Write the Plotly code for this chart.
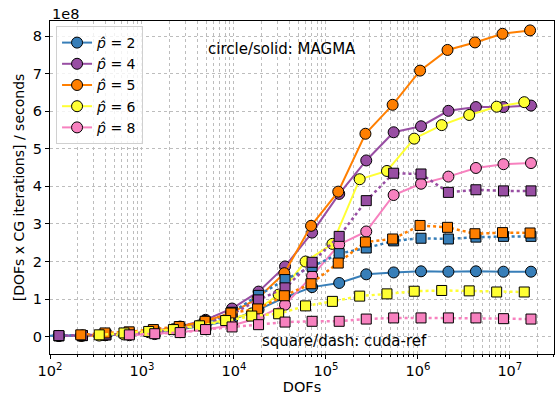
import plotly.graph_objects as go

# DOFs per polynomial degree
X_P2 = [27, 45, 75, 125, 225, 405, 729, 1377, 2601, 4913, 9537, 18513, 35937, 70785, 139425,
        274625, 545025, 1081665, 2146689, 4276737, 8520321, 16974593]
X_P4 = [125, 225, 405, 729, 1377, 2601, 4913, 9537, 18513, 35937, 70785, 139425, 274625,
        545025, 1081665, 2146689, 4276737, 8520321, 16974593]
X_P5 = [216, 396, 726, 1331, 2541, 4851, 9261, 18081, 35301, 68921, 136161, 269001, 531441,
        1056321, 2099601, 4173281, 8320641, 16589601]
X_P6 = [343, 637, 1183, 2197, 4225, 8125, 15625, 30625, 60025, 117649, 232897, 461041, 912673,
        1815937, 3613153, 7189057, 14340865]
X_P8 = [729, 1377, 2601, 4913, 9537, 18513, 35937, 70785, 139425, 274625, 545025, 1081665,
        2146689, 4276737, 8520321, 16974593]

# throughput in units of 1e8 [DOFs x CG iterations / s]
MAGMA_P2 = [0.00, 0.01, 0.01, 0.02, 0.03, 0.05, 0.08, 0.13, 0.20, 0.30, 0.45, 0.72, 1.05, 1.32,
            1.43, 1.66, 1.71, 1.74, 1.73, 1.74, 1.73, 1.73]
CUDA_P2 = [0.00, 0.01, 0.01, 0.02, 0.03, 0.05, 0.08, 0.12, 0.20, 0.35, 0.65, 1.10, 1.52, 1.87,
           2.21, 2.36, 2.55, 2.62, 2.60, 2.65, 2.67, 2.67]
MAGMA_P4 = [0.02, 0.03, 0.05, 0.08, 0.15, 0.27, 0.45, 0.75, 1.20, 1.87, 2.77, 3.80, 4.69, 5.44,
            5.60, 6.01, 6.11, 6.11, 6.15]
CUDA_P4 = [0.03, 0.03, 0.05, 0.07, 0.12, 0.20, 0.35, 0.60, 0.98, 1.30, 1.98, 2.67, 3.62, 4.35,
           4.33, 3.84, 3.91, 3.88, 3.88]
MAGMA_P5 = [0.02, 0.04, 0.08, 0.14, 0.26, 0.42, 0.62, 1.02, 1.69, 2.95, 3.86, 5.40, 6.17, 7.08,
            7.63, 7.83, 8.06, 8.15]
CUDA_P5 = [0.05, 0.10, 0.13, 0.19, 0.27, 0.41, 0.63, 0.74, 1.09, 1.41, 1.96, 2.52, 2.60, 2.96,
           2.91, 2.74, 2.77, 2.76]
MAGMA_P6 = [0.03, 0.06, 0.12, 0.20, 0.30, 0.45, 0.62, 1.12, 2.00, 2.47, 4.19, 4.41, 5.27, 5.63,
            5.90, 6.12, 6.24]
CUDA_P6 = [0.05, 0.10, 0.14, 0.19, 0.29, 0.43, 0.55, 0.61, 0.82, 0.94, 1.08, 1.14, 1.21, 1.23,
           1.22, 1.19, 1.19]
MAGMA_P8 = [0.04, 0.07, 0.12, 0.20, 0.30, 0.50, 0.85, 1.62, 2.45, 2.80, 3.77, 4.07, 4.26, 4.49,
            4.59, 4.62]
CUDA_P8 = [0.05, 0.08, 0.11, 0.19, 0.26, 0.32, 0.39, 0.41, 0.41, 0.47, 0.50, 0.50, 0.50, 0.50,
           0.48, 0.47]

DEGREES = ["2", "4", "5", "6", "8"]
COLORS = ["#377eb8", "#984ea3", "#ff7f00", "#ffff33", "#f781bf"]
XS = [X_P2, X_P4, X_P5, X_P6, X_P8]
MAGMA = [MAGMA_P2, MAGMA_P4, MAGMA_P5, MAGMA_P6, MAGMA_P8]
CUDA = [CUDA_P2, CUDA_P4, CUDA_P5, CUDA_P6, CUDA_P8]

X_TICKS = [1e2, 1e3, 1e4, 1e5, 1e6, 1e7]
X_TICK_TEXT = ["10<sup>2</sup>", "10<sup>3</sup>", "10<sup>4</sup>", "10<sup>5</sup>",
               "10<sup>6</sup>", "10<sup>7</sup>"]
Y_TICKS = [0, 1, 2, 3, 4, 5, 6, 7, 8]

FONT = "DejaVu Sans"
fig = go.Figure()

for p, c, x, y in zip(DEGREES, COLORS, XS, MAGMA):
    fig.add_trace(go.Scatter(
        x=x, y=y, mode="lines+markers", name=f"<i>p̂</i> = {p}",
        line=dict(color=c, width=2),
        marker=dict(symbol="circle", size=11, color=c, line=dict(color="black", width=1)),
    ))
for p, c, x, y in zip(DEGREES, COLORS, XS, CUDA):
    fig.add_trace(go.Scatter(
        x=x, y=y, mode="lines+markers", showlegend=False,
        line=dict(color=c, width=2.5, dash="dot"),
        marker=dict(symbol="square", size=10, color=c, line=dict(color="black", width=1)),
    ))

grid = "#bdbdbd"
fig.update_xaxes(
    type="log", range=[2, 7.48], tickvals=X_TICKS, ticktext=X_TICK_TEXT,
    showline=True, linecolor="black", linewidth=1, mirror=True,
    ticks="outside", ticklen=4, tickcolor="black",
    showgrid=True, gridcolor=grid, griddash="dot", gridwidth=1,
    minor=dict(ticks="outside", ticklen=2, tickcolor="black", showgrid=True,
               gridcolor=grid, griddash="dot", gridwidth=0.8, dtick="D1"),
    title=dict(text="DOFs", font=dict(size=14.5, color="black"), standoff=0),
    tickfont=dict(size=14.5, color="black"), zeroline=False,
)
fig.update_yaxes(
    range=[-0.46, 8.40], tickvals=Y_TICKS,
    showline=True, linecolor="black", linewidth=1, mirror=True,
    ticks="outside", ticklen=4, tickcolor="black",
    showgrid=True, gridcolor=grid, griddash="dot", gridwidth=1,
    title=dict(text="[DOFs x CG iterations] / seconds", font=dict(size=14, color="black"),
               standoff=4),
    tickfont=dict(size=14.5, color="black"), zeroline=False,
)

fig.add_annotation(text="1e8", xref="paper", yref="paper", x=0, y=1, xanchor="left",
                   yanchor="bottom", showarrow=False, font=dict(size=14.5, color="black"),
                   yshift=-3)
fig.add_annotation(text="circle/solid: MAGMA", xref="paper", yref="paper", x=0.46, y=0.915,
                   xanchor="center", yanchor="middle", showarrow=False,
                   font=dict(size=15, color="black"))
fig.add_annotation(text="square/dash: cuda-ref", xref="paper", yref="paper", x=0.585, y=0.04,
                   xanchor="center", yanchor="middle", showarrow=False,
                   font=dict(size=15, color="black"))

fig.update_layout(
    width=555, height=396,
    margin=dict(l=50, r=1, t=21, b=42),
    paper_bgcolor="white", plot_bgcolor="white",
    font=dict(family=FONT, size=14, color="black"),
    legend=dict(x=0.012, y=0.985, xanchor="left", yanchor="top",
                bgcolor="rgba(255,255,255,0.8)", bordercolor="#d0d0d0", borderwidth=1,
                font=dict(size=14), itemwidth=30, tracegroupgap=0),
)

fig.write_html("out.html")
